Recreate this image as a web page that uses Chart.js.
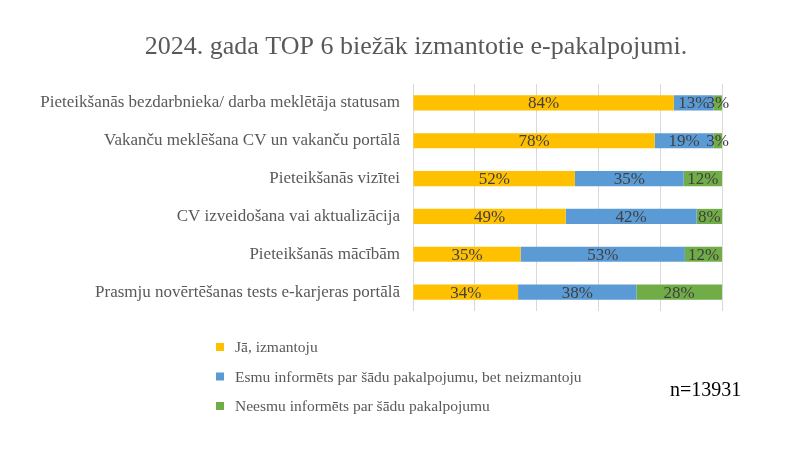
<!DOCTYPE html>
<html>
<head>
<meta charset="utf-8">
<script src="https://cdn.jsdelivr.net/npm/chart.js@4/dist/chart.umd.min.js"></script>
<style>
  html, body { margin: 0; padding: 0; background: #fff; }
  #wrap { width: 800px; height: 450px; }
</style>
</head>
<body>
<div id="wrap"><canvas id="chart" width="800" height="450"></canvas></div>
<script>
// data
const categories = [
    'Pieteikšanās bezdarbnieka/ darba meklētāja statusam',
    'Vakanču meklēšana CV un vakanču portālā',
    'Pieteikšanās vizītei',
    'CV izveidošana vai aktualizācija',
    'Pieteikšanās mācībām',
    'Prasmju novērtēšanas tests e-karjeras portālā'
];
const seriesNames = [
    'Jā, izmantoju',
    'Esmu informēts par šādu pakalpojumu, bet neizmantoju',
    'Neesmu informēts par šādu pakalpojumu'
];
const usesValues = [84.4, 78.2, 52.4, 49.4, 34.8, 34.0];
const knowsValues = [12.9, 19.0, 35.2, 42.4, 53.2, 38.3];
const unawareValues = [2.7, 2.8, 12.4, 8.2, 12.0, 27.7];
const seriesColors = ['#FFC000', '#5B9BD5', '#70AD47'];
const sampleNote = 'n=13931';
const chartTitle = '2024. gada TOP 6 biežāk izmantotie e-pakalpojumi.';

const serif = '"Liberation Serif", "Times New Roman", serif';

// title, centred a bit right of the canvas middle like the original
const titlePlugin = {
    id: 'titleText',
    afterDraw(chart) {
        const ctx = chart.ctx;
        ctx.save();
        ctx.font = '26px ' + serif;
        ctx.fillStyle = '#595959';
        ctx.textAlign = 'center';
        ctx.textBaseline = 'middle';
        ctx.fillText(chartTitle, 416, 47);
        ctx.restore();
    }
};

// labels in the middle of each segment
const segmentLabels = {
    id: 'segmentLabels',
    afterDatasetsDraw(chart) {
        const ctx = chart.ctx;
        ctx.save();
        ctx.font = '17px ' + serif;
        ctx.fillStyle = '#404040';
        ctx.textAlign = 'center';
        ctx.textBaseline = 'middle';
        chart.data.datasets.forEach((ds, i) => {
            const meta = chart.getDatasetMeta(i);
            meta.data.forEach((bar, j) => {
                const cx = (bar.x + bar.base) / 2;
                ctx.fillText(Math.round(ds.data[j]) + '%', cx, bar.y + 1);
            });
        });
        ctx.restore();
    }
};

// vertical legend bottom left + sample size
const sideLegend = {
    id: 'sideLegend',
    afterDraw(chart) {
        const ctx = chart.ctx;
        ctx.save();
        ctx.textBaseline = 'middle';
        ctx.textAlign = 'left';
        ctx.font = '15.5px ' + serif;
        chart.data.datasets.forEach((ds, i) => {
            const y = 347 + i * 29.5;
            ctx.fillStyle = ds.backgroundColor;
            ctx.fillRect(216, y - 4, 8, 8);
            ctx.fillStyle = '#595959';
            ctx.fillText(ds.label, 235, y + 1);
        });
        ctx.font = '20px ' + serif;
        ctx.fillStyle = '#000000';
        ctx.fillText(sampleNote, 670, 391);
        ctx.restore();
    }
};

const datasets = [usesValues, knowsValues, unawareValues].map((vals, i) => ({
    label: seriesNames[i],
    data: vals,
    backgroundColor: seriesColors[i],
    borderWidth: 0,
    barPercentage: 0.4,
    categoryPercentage: 1.0
}));

new Chart(document.getElementById('chart').getContext('2d'), {
    type: 'bar',
    data: { labels: categories, datasets: datasets },
    options: {
        indexAxis: 'y',
        responsive: false,
        animation: false,
        layout: { padding: { left: 0, right: 78, top: 84, bottom: 139 } },
        plugins: {
            legend: { display: false },
            tooltip: { enabled: false },
            title: { display: false }
        },
        scales: {
            x: {
                stacked: true,
                min: 0,
                max: 100,
                ticks: { display: false, stepSize: 20 },
                grid: { color: '#D9D9D9', drawTicks: false },
                border: { display: false },
                afterFit(scale) { scale.height = 0; }
            },
            y: {
                stacked: true,
                grid: { display: false },
                border: { display: false },
                ticks: {
                    color: '#595959',
                    font: { family: serif, size: 17 },
                    padding: 5
                },
                afterFit(scale) { scale.width = 413; }
            }
        }
    },
    plugins: [titlePlugin, segmentLabels, sideLegend]
});
</script>
</body>
</html>
